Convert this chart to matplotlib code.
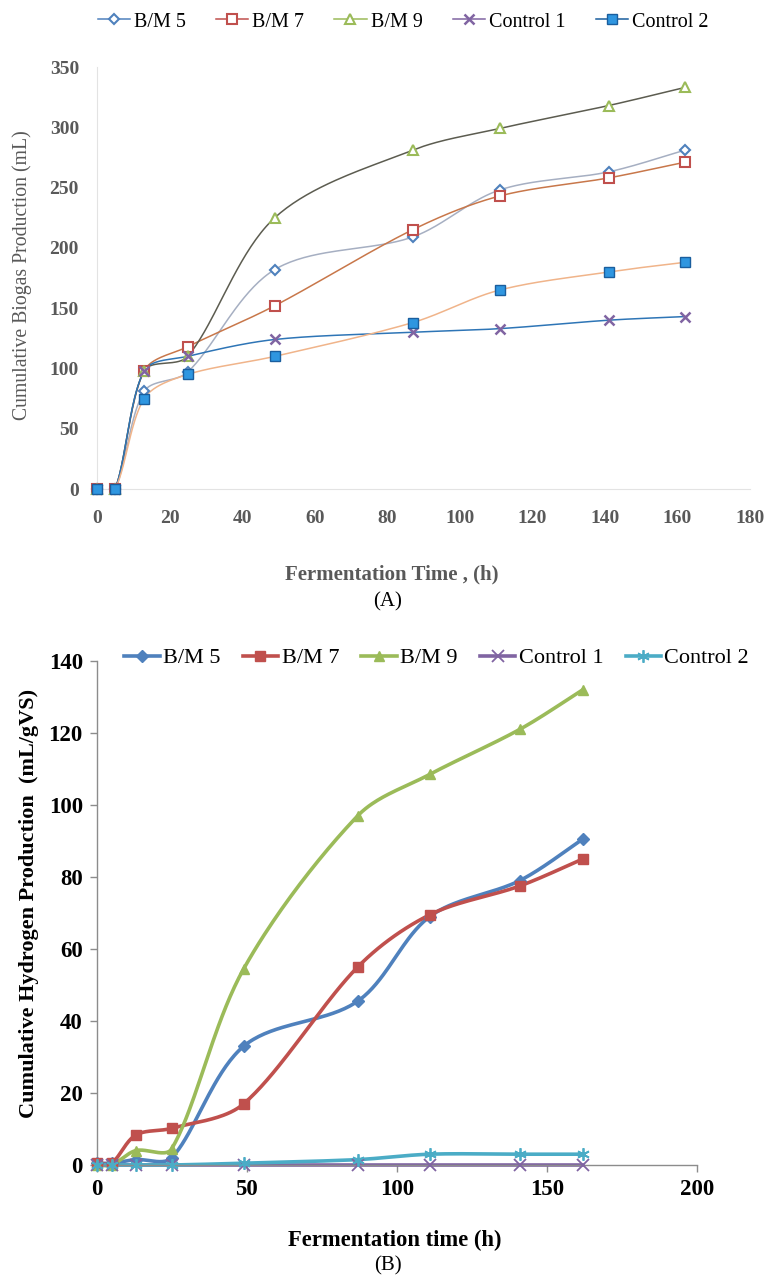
import numpy as np
import matplotlib
matplotlib.use("Agg")
import matplotlib.pyplot as plt
from matplotlib.lines import Line2D

# ---------------- data ----------------
time_h = [0, 5, 13, 25, 49, 87, 111, 141, 162]
series_names = ["B/M 5", "B/M 7", "B/M 9", "Control 1", "Control 2"]

biogas_bm5 = [0, 0, 81, 97, 182, 209, 248, 263, 281]
biogas_bm7 = [0, 0, 98, 118, 152, 215, 243, 258, 271]
biogas_bm9 = [0, 0, 98, 110, 225, 281, 299, 318, 333]
biogas_c1 = [0, 0, 98, 110, 124, 130, 133, 140, 143]
biogas_c2 = [0, 0, 75, 95, 110, 138, 165, 180, 188]

h2_bm5 = [0.5, 0.5, 1.5, 2.0, 33.0, 45.5, 69.0, 79.0, 90.5]
h2_bm7 = [0.5, 0.5, 8.3, 10.2, 17.0, 55.0, 69.5, 77.5, 85.0]
h2_bm9 = [0, 0, 4.0, 4.5, 54.5, 97.0, 108.5, 121.0, 132.0]
h2_c1 = [0, 0, 0, 0, 0, 0, 0, 0, 0]
h2_c2 = [0, 0, 0, 0, 0.5, 1.5, 3.0, 3.0, 3.0]

top_yticks = [0, 50, 100, 150, 200, 250, 300, 350]
top_xticks = [0, 20, 40, 60, 80, 100, 120, 140, 160, 180]
bot_yticks = [0, 20, 40, 60, 80, 100, 120, 140]
bot_xticks = [0, 50, 100, 150, 200]

SERIF = ["Liberation Serif", "DejaVu Serif"]
plt.rcParams["font.family"] = SERIF


def smooth(ax, x, y, n=40):
    """Smoothed line through the points (Bezier, chord-weighted tangents in display space)."""
    pts = ax.transData.transform(np.column_stack([x, y]))
    m = len(pts)
    out = [pts[0]]
    for i in range(m - 1):
        p0 = pts[i - 1] if i > 0 else pts[i]
        p1 = pts[i]
        p2 = pts[i + 1]
        p3 = pts[i + 2] if i + 2 < m else pts[i + 1]
        d01 = np.linalg.norm(p1 - p0)
        d12 = np.linalg.norm(p2 - p1)
        d23 = np.linalg.norm(p3 - p2)
        f1 = d12 / (d01 + d12) / 3.0 if d01 + d12 > 0 else 0
        f2 = d12 / (d12 + d23) / 3.0 if d12 + d23 > 0 else 0
        f1 = 0.5 * f1 + 0.5 / 6.0 * min(1.0, 6 * f1)
        f2 = 0.5 * f2 + 0.5 / 6.0 * min(1.0, 6 * f2)
        c1 = p1 + (p2 - p0) * f1
        c2 = p2 - (p3 - p1) * f2
        t = np.linspace(0, 1, n)[1:, None]
        seg = ((1 - t) ** 3) * p1 + 3 * ((1 - t) ** 2) * t * c1 + 3 * (1 - t) * t ** 2 * c2 + t ** 3 * p2
        out.extend(seg)
    out = np.array(out)
    return ax.transData.inverted().transform(out)


fig = plt.figure(figsize=(7.76, 12.77), dpi=100)

# ---------------- top chart (A) ----------------
axA = fig.add_axes([97 / 776, 1 - 489 / 1277, (750 - 97) / 776, (489 - 67) / 1277])
axA.set_xlim(0, 180)
axA.set_ylim(0, 350)

top_series = [biogas_bm5, biogas_bm7, biogas_bm9, biogas_c1, biogas_c2]
top_line_colors = ["#A6AFC2", "#C8774A", "#5C5C50", "#2E75B6", "#F0B48A"]
top_mk = [
    dict(marker="D", ms=5.5, mfc="white", mec="#4F81BD", mew=1.5),
    dict(marker="s", ms=7.5, mfc="white", mec="#C0504D", mew=1.5),
    dict(marker="^", ms=7.5, mfc="white", mec="#9BBB59", mew=1.5),
    dict(marker="x", ms=7.5, mfc="none", mec="#8064A2", mew=1.8),
    dict(marker="s", ms=6.5, mfc="#2F96E0", mec="#1A5E9E", mew=1.0),
]
fig.canvas.draw()
for ys, lc in zip(top_series, top_line_colors):
    sm = smooth(axA, time_h, ys)
    axA.plot(sm[:, 0], sm[:, 1], color=lc, lw=1.1, zorder=2)
for ys, mk in zip(top_series, top_mk):
    axA.plot(time_h, ys, ls="none", zorder=3, clip_on=False, **mk)

for s in ["top", "right"]:
    axA.spines[s].set_visible(False)
for s in ["left", "bottom"]:
    axA.spines[s].set_color("#E3E3E3")
    axA.spines[s].set_linewidth(0.8)
axA.set_xticks(top_xticks)
axA.set_yticks(top_yticks)
axA.tick_params(length=0, labelsize=14, labelcolor="#595959")
axA.tick_params(axis="x", pad=15)
axA.tick_params(axis="y", pad=13)
for lab in axA.get_xticklabels() + axA.get_yticklabels():
    lab.set_fontweight("bold")
axA.set_ylabel("Cumulative Biogas Production (mL)", fontsize=14.2, color="#595959", va="center")
axA.yaxis.set_label_coords((22 - 97) / 653, (489 - 275) / 422)
axA.set_xlabel("Fermentation Time , (h)", fontsize=15, color="#595959", fontweight="bold", va="center")
axA.xaxis.set_label_coords((392 - 97) / 653, (489 - 574) / 422)

handlesA = [Line2D([], [], color=mk["mec"], lw=1.1, **mk) for mk in top_mk]
fig.legend(handlesA, series_names, loc="center", bbox_to_anchor=(403 / 776, 1 - 22 / 1277),
           ncol=5, frameon=False, fontsize=14.5, handlelength=1.6, handletextpad=0.2,
           columnspacing=1.5, borderpad=0)
fig.text(388 / 776, 1 - 602 / 1277, "(A)", ha="center", va="center", fontsize=15, color="black")

# ---------------- bottom chart (B) ----------------
axB = fig.add_axes([96.7 / 776, 1 - 1165 / 1277, 600 / 776, (1165 - 661) / 1277])
axB.set_xlim(0, 200)
axB.set_ylim(0, 140)

bot_series = [h2_bm5, h2_bm7, h2_bm9, h2_c1, h2_c2]
bot_colors = ["#4F81BD", "#C0504D", "#9BBB59", "#8064A2", "#4BACC6"]
bot_mk = [
    dict(marker="D", ms=6),
    dict(marker="s", ms=7.5),
    dict(marker="^", ms=7),
    dict(marker="x", ms=8, mew=1.3),
    dict(marker=(6, 2, 0), ms=9, mew=1.3),
]
fig.canvas.draw()
for ys, c, mk in zip(bot_series, bot_colors, bot_mk):
    sm = smooth(axB, time_h, ys)
    axB.plot(sm[:, 0], sm[:, 1], color=c, lw=2.6, zorder=2, clip_on=False, solid_capstyle="round")
    axB.plot(time_h, ys, ls="none", color=c, zorder=3, clip_on=False, **mk)

for s in ["top", "right"]:
    axB.spines[s].set_visible(False)
for s in ["left", "bottom"]:
    axB.spines[s].set_color("#8C8C8C")
    axB.spines[s].set_linewidth(1.0)
axB.set_xticks(bot_xticks)
axB.set_yticks(bot_yticks)
axB.tick_params(direction="out", length=5, width=1.0, color="#8C8C8C", pad=5,
                labelsize=16.5, labelcolor="black")
for lab in axB.get_xticklabels() + axB.get_yticklabels():
    lab.set_fontweight("bold")
axB.set_ylabel("Cumulative Hydrogen Production  (mL/gVS)", fontsize=16, fontweight="bold", va="center")
axB.yaxis.set_label_coords((29 - 96.7) / 600, (1165 - 903) / 504)
axB.set_xlabel("Fermentation time (h)", fontsize=16.3, fontweight="bold", va="center")
axB.xaxis.set_label_coords((395 - 96.7) / 600, (1165 - 1240) / 504)

handlesB = [Line2D([], [], color=c, lw=2.6, **mk) for c, mk in zip(bot_colors, bot_mk)]
fig.legend(handlesB, series_names, loc="center left", bbox_to_anchor=(124 / 776, 1 - 658 / 1277),
           ncol=5, frameon=False, fontsize=16, handlelength=1.6, handletextpad=0.15,
           columnspacing=1.0, borderpad=0, borderaxespad=0)
fig.text(388 / 776, 1 - 1266 / 1277, "(B)", ha="center", va="center", fontsize=15, color="black")

fig.savefig("out.png", dpi=100)
